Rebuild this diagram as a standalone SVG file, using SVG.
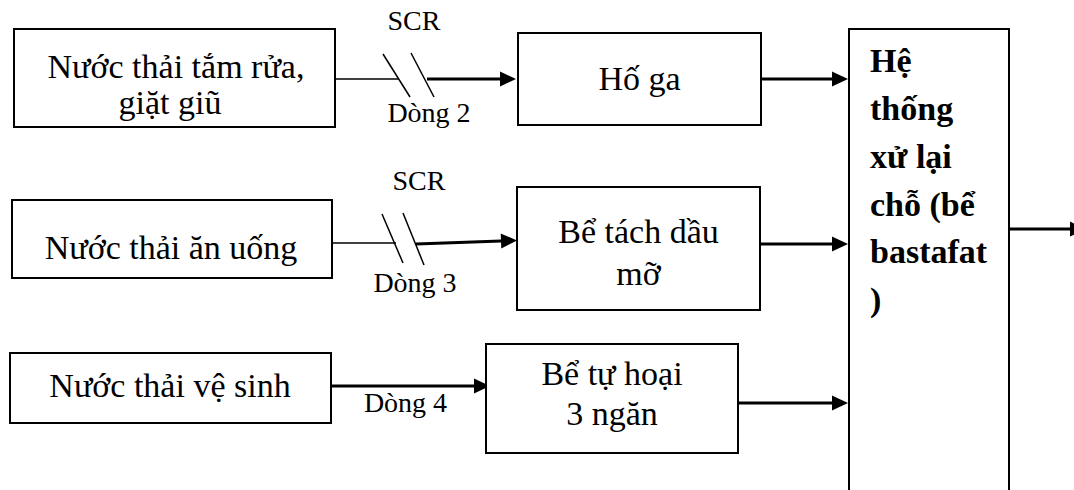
<svg xmlns="http://www.w3.org/2000/svg" width="1074" height="490" viewBox="0 0 1074 490">
  <defs>
    <marker id="ah" markerUnits="userSpaceOnUse" markerWidth="17" markerHeight="16" refX="0" refY="7.5" orient="auto" overflow="visible">
      <path d="M0,0 L16,7.5 L0,15 Z" fill="#000"/>
    </marker>
    <style>
      .box { fill: #fff; stroke: #000; stroke-width: 2; }
      text { font-family: 'Liberation Serif', 'DejaVu Serif', serif; fill: #000; }
      .t { font-size: 34px; text-anchor: middle; }
      .tb { font-size: 34px; font-weight: bold; }
      .s { font-size: 28px; text-anchor: middle; }
      .thin { stroke: #000; stroke-width: 1.5; fill: none; }
      .thick { stroke: #000; stroke-width: 3; fill: none; }
    </style>
  </defs>
  <rect width="1074" height="490" fill="#fff"/>

  <g id="connectors">
    <line class="thin" x1="334" y1="79" x2="398" y2="79"/>
    <line class="thin" x1="383" y1="54" x2="410" y2="97"/>
    <line class="thin" x1="411" y1="53" x2="434" y2="97"/>
    <line class="thick" x1="427" y1="79" x2="500" y2="79" marker-end="url(#ah)"/>
    <line class="thin" x1="332" y1="243" x2="396" y2="243"/>
    <line class="thin" x1="382" y1="214" x2="403" y2="263"/>
    <line class="thin" x1="403" y1="213" x2="424" y2="265"/>
    <line class="thick" x1="416" y1="244" x2="501" y2="241" marker-end="url(#ah)"/>
    <line class="thick" x1="332" y1="386" x2="474" y2="386" marker-end="url(#ah)"/>
    <line class="thick" x1="761" y1="79" x2="832" y2="79" marker-end="url(#ah)"/>
    <line class="thick" x1="760" y1="244" x2="832" y2="244" marker-end="url(#ah)"/>
    <line class="thick" x1="738" y1="403" x2="832" y2="403" marker-end="url(#ah)"/>
    <line class="thick" x1="1009" y1="229" x2="1070" y2="229" marker-end="url(#ah)"/>
    <text class="s" font-family="Liberation Serif, serif" x="414" y="30">SCR</text>
    <text class="s" font-family="Liberation Serif, serif" x="429" y="122">Dòng 2</text>
    <text class="s" font-family="Liberation Serif, serif" x="419" y="190">SCR</text>
    <text class="s" font-family="Liberation Serif, serif" x="415" y="292">Dòng 3</text>
    <text class="s" font-family="Liberation Serif, serif" x="405.5" y="412">Dòng 4</text>
  </g>

  <g id="n-tamrua">
    <rect class="box" x="14" y="29" width="321" height="98"/>
    <text class="t" x="176" y="78">Nước thải tắm rửa,</text>
    <text class="t" x="170" y="114">giặt giũ</text>
  </g>

  <g id="n-anuong">
    <rect class="box" x="12" y="200" width="320" height="78"/>
    <text class="t" x="171" y="259">Nước thải ăn uống</text>
  </g>

  <g id="n-vesinh">
    <rect class="box" x="10" y="353" width="321" height="70"/>
    <text class="t" x="170" y="397">Nước thải vệ sinh</text>
  </g>

  <g id="n-hoga">
    <rect class="box" x="518" y="33" width="243" height="92"/>
    <text class="t" x="639.5" y="90">Hố ga</text>
  </g>

  <g id="n-tachdau">
    <rect class="box" x="517" y="187" width="243" height="123"/>
    <text class="t" x="638.5" y="243">Bể tách dầu</text>
    <text class="t" x="638.5" y="284.5">mỡ</text>
  </g>

  <g id="n-tuhoai">
    <rect class="box" x="486" y="344" width="252" height="109"/>
    <text class="t" x="612" y="385">Bể tự hoại</text>
    <text class="t" x="612" y="425">3 ngăn</text>
  </g>

  <g id="n-bastafat">
    <rect class="box" x="849" y="29" width="160" height="470"/>
    <text class="tb" x="870" y="72">Hệ</text>
    <text class="tb" x="870" y="120">thống</text>
    <text class="tb" x="870" y="168">xử lại</text>
    <text class="tb" x="870" y="215.5">chỗ (bể</text>
    <text class="tb" x="870" y="263">bastafat</text>
    <text class="tb" x="870" y="311">)</text>
  </g>
</svg>
